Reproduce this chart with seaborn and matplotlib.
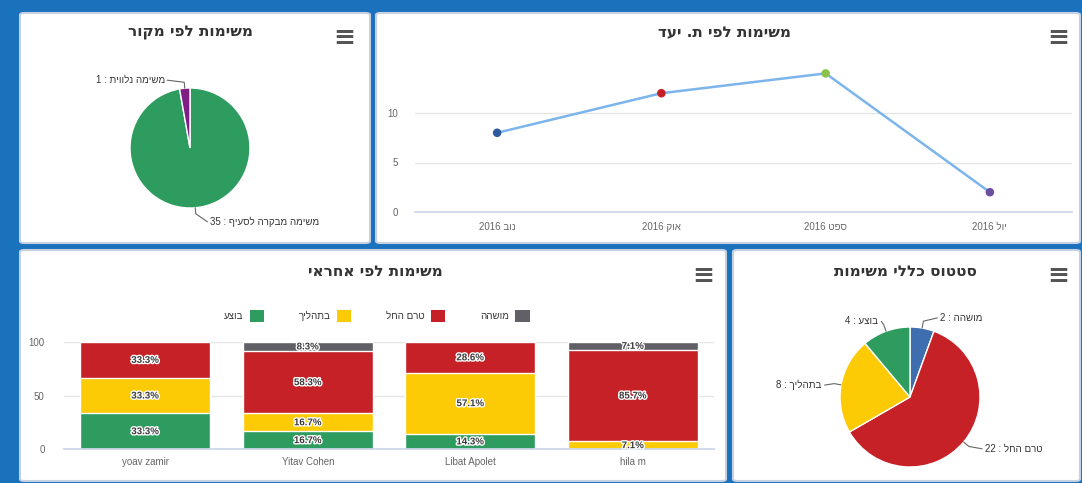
import numpy as np
import pandas as pd
import matplotlib
matplotlib.use("Agg")
import matplotlib.pyplot as plt
import matplotlib.patheffects as pe
from matplotlib.patches import FancyBboxPatch, Patch
import seaborn as sns

# ---- data ----
source_names = ["משימה מבקרה לסעיף", "משימה נלווית"]
source_counts = [35, 1]

months = ["נוב", "אוק", "ספט", "יול"]
month_counts = [8, 12, 14, 2]

people = ["yoav zamir", "Yitav Cohen", "Libat Apolet", "hila m"]
statuses = ["בוצע", "בתהליך", "טרם החל", "מושהה"]
done = [1, 2, 1, 0]
in_progress = [1, 2, 4, 1]
not_started = [1, 7, 2, 12]
paused = [0, 1, 0, 1]

status_names = ["מושהה", "טרם החל", "בתהליך", "בוצע"]
status_counts = [2, 22, 8, 4]

titles = ["משימות לפי מקור", "משימות לפי ת. יעד", "משימות לפי אחראי", "סטטוס כללי משימות"]

# ---- style ----
sns.set_theme(style="white")
plt.rcParams["font.family"] = ["Liberation Sans", "DejaVu Sans"]

BLUE_BG = "#1a71bc"
GREEN = "#2e9c5f"
YELLOW = "#fccb05"
RED = "#c62127"
GREY = "#606066"
STEEL = "#3e6eaf"
PURPLE = "#7f1f86"
TXT = "#333333"
TICK = "#666666"


def heb(s):
    return s[::-1]


W, H = 1082, 483
fig = plt.figure(figsize=(W / 100, H / 100), dpi=100, facecolor=BLUE_BG)


def px_axes(x0, y0, x1, y1):
    ax = fig.add_axes([x0 / W, 1 - y1 / H, (x1 - x0) / W, (y1 - y0) / H])
    ax.set_zorder(2)
    ax.patch.set_alpha(0)
    return ax


def panel(x0, y0, x1, y1):
    fig.patches.append(FancyBboxPatch((x0 / W, 1 - y1 / H), (x1 - x0) / W, (y1 - y0) / H,
                                      boxstyle="round,pad=0,rounding_size=0.004",
                                      transform=fig.transFigure, fc="white",
                                      ec="#c5d0e3", lw=1.5, zorder=-1))


def title(cx, cy, s):
    fig.text(cx / W, 1 - cy / H, heb(s), ha="center", va="center",
             fontsize=11, fontweight="bold", color=TXT, family="DejaVu Sans")


def burger(cx, cy):
    fig.text(cx / W, 1 - cy / H, "≡", ha="center", va="center",
             fontsize=19, color="#555555", family="DejaVu Sans", fontweight="bold")


panels = [(20, 13, 370, 243), (376, 13, 1080, 243), (20, 250, 726, 481), (733, 250, 1080, 481)]
for p in panels:
    panel(*p)
title(190, 33, titles[0])
title(725, 33, titles[1])
title(375, 271, titles[2])
title(905, 271, titles[3])
for c in [(344, 38), (1058, 38), (703, 276), (1058, 276)]:
    burger(*c)


def pie_with_labels(ax, counts, names, colors, label_pos):
    wedges, _ = ax.pie(counts, colors=colors, startangle=90, counterclock=False,
                       wedgeprops=dict(edgecolor="white", linewidth=1))
    ax.set_xlim(-1, 1)
    ax.set_ylim(-1, 1)
    ax.axis("off")
    for w, n, name, (tx, ty) in zip(wedges, counts, names, label_pos):
        th = np.deg2rad((w.theta1 + w.theta2) / 2)
        ex, ey = np.cos(th), np.sin(th)
        side = 1 if tx > ex else -1
        ax.plot([ex, 1.1 * ex, tx - side * 0.04], [ey, 1.1 * ey if side * ex > 0 else ty, ty],
                color="#666666", lw=0.8, clip_on=False)
        ax.text(tx, ty, f"{n} : {heb(name)}", ha="left" if side > 0 else "right",
                va="center", fontsize=7, color=TXT, clip_on=False)


# ---- panel 1: pie by source ----
ax1 = px_axes(130, 88, 250, 208)
pie_with_labels(ax1, source_counts, source_names, [GREEN, PURPLE],
                [(0.33, -1.23), (-0.42, 1.13)])

# ---- panel 4: overall status pie ----
ax4 = px_axes(840, 327, 980, 467)
pie_with_labels(ax4, status_counts, status_names, [STEEL, RED, YELLOW, GREEN],
                [(0.43, 1.13), (1.07, -0.74), (-1.26, 0.17), (-0.45, 1.08)])

# ---- panel 2: line by target month ----
ax2 = px_axes(415, 63.5, 1072, 212)
line_df = pd.DataFrame({"month": [f"2016 {heb(m)}" for m in months], "count": month_counts})
sns.lineplot(data=line_df, x="month", y="count", color="#7cb5ec", lw=1.8, ax=ax2, sort=False)
sns.scatterplot(data=line_df, x="month", y="count", hue="month",
                palette=["#2f5aa0", RED, "#8bc34a", "#6b4fa0"], s=38, legend=False,
                edgecolor="none", ax=ax2, zorder=3)
ax2.set_xlim(-0.5, 3.5)
ax2.set_ylim(0, 15)
ax2.set_yticks([0, 5, 10])
ax2.set_xlabel("")
ax2.set_ylabel("")
ax2.grid(axis="y", color="#e6e6e6", lw=1)
ax2.set_xticks(np.arange(-0.5, 4, 1), minor=True)
ax2.tick_params(axis="x", which="major", length=0, labelsize=7, colors=TICK, pad=7)
ax2.tick_params(axis="x", which="minor", length=6, color="#ccd6eb", direction="out")
ax2.tick_params(axis="y", length=0, labelsize=7, colors=TICK, pad=12)
for s in ["top", "right", "left"]:
    ax2.spines[s].set_visible(False)
ax2.spines["bottom"].set_color("#ccd6eb")

# ---- panel 3: stacked percent bars by person ----
ax3 = px_axes(64, 342, 714, 449)
counts = pd.DataFrame({"done": done, "in_progress": in_progress,
                       "not_started": not_started, "paused": paused}, index=people)
pct = counts.div(counts.sum(axis=1), axis=0) * 100
cum = pct.cumsum(axis=1)
layer_colors = [GREEN, YELLOW, RED, GREY]
ax3.grid(axis="y", color="#e6e6e6", lw=1, zorder=0)
ax3.set_axisbelow(True)
for col, c in reversed(list(zip(cum.columns, layer_colors))):
    sns.barplot(x=people, y=cum[col].values, color=c, saturation=1, width=0.8,
                edgecolor="white", linewidth=1, ax=ax3)
for i, person in enumerate(people):
    bottom = 0
    for col in pct.columns:
        v = pct.loc[person, col]
        if v > 0:
            ax3.text(i, bottom + v / 2, f"{v:.1f}%", ha="center", va="center",
                     fontsize=7, fontweight="bold", color="#3a3a3a",
                     path_effects=[pe.withStroke(linewidth=2, foreground="white")])
        bottom += v
ax3.set_xlim(-0.5, 3.5)
ax3.set_ylim(0, 100)
ax3.set_yticks([0, 50, 100])
ax3.set_xticks(np.arange(-0.5, 4, 1), minor=True)
ax3.tick_params(axis="x", which="major", length=0, labelsize=7, colors=TICK, pad=6)
ax3.tick_params(axis="x", which="minor", length=6, color="#ccd6eb", direction="out")
ax3.tick_params(axis="y", length=0, labelsize=7, colors=TICK, pad=14)
for s in ["top", "right", "left"]:
    ax3.spines[s].set_visible(False)
ax3.spines["bottom"].set_color("#ccd6eb")

handles = [Patch(facecolor=c, edgecolor="none") for c in layer_colors]
fig.legend(handles, [heb(s) for s in statuses], loc="center",
           bbox_to_anchor=(377 / W, 1 - 316 / H), ncol=4, frameon=False,
           markerfirst=False, handlelength=1.5, handleheight=1.5, handletextpad=0.6,
           columnspacing=3.6, fontsize=7, labelcolor=TXT)

fig.savefig("out.png", dpi=100, facecolor=BLUE_BG)
